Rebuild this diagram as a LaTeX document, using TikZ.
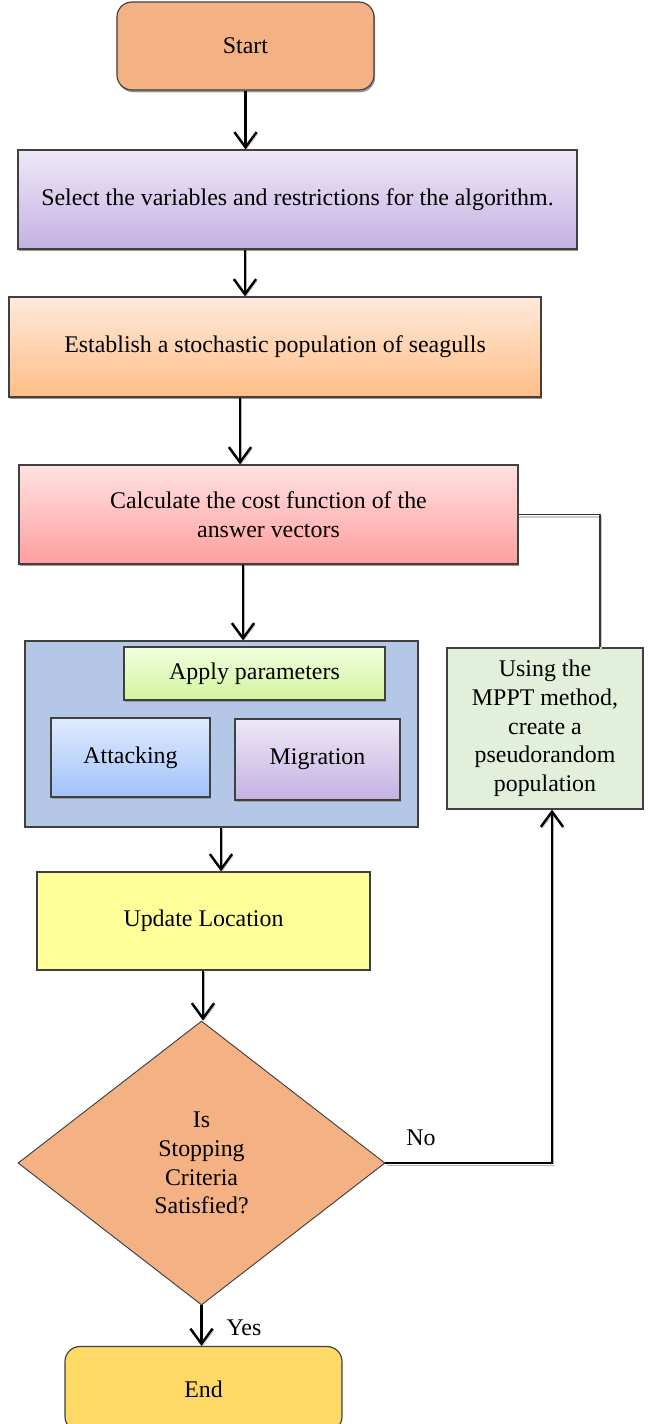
\documentclass[tikz,border=0pt]{standalone}
\usepackage{fontspec}
\setmainfont{Liberation Serif}
\usetikzlibrary{shapes.geometric,shadows,arrows.meta}
\definecolor{peach}{HTML}{F4B183}
\definecolor{lilacT}{HTML}{EEE8F7}\definecolor{lilacB}{HTML}{C4B1E2}
\definecolor{apriT}{HTML}{FFE9DC}\definecolor{apriB}{HTML}{FFBE86}
\definecolor{roseT}{HTML}{FFE2E2}\definecolor{roseB}{HTML}{FF9E9E}
\definecolor{steel}{HTML}{B4C7E7}
\definecolor{limeT}{HTML}{F2FFE0}\definecolor{limeB}{HTML}{D2F39C}
\definecolor{skyT}{HTML}{DFEAFE}\definecolor{skyB}{HTML}{A3C3FA}
\definecolor{mintbg}{HTML}{E2EFDA}
\definecolor{lemon}{HTML}{FFFF99}
\definecolor{gold}{HTML}{FFD966}
\begin{document}
\begin{tikzpicture}[x=0.03cm,y=-0.03cm,
    every node/.style={font=\fontsize{20.4}{24.5}\selectfont,align=center},
    box/.style={draw=black!75,line width=1pt,inner sep=0pt},
    shd/.style={drop shadow={shadow xshift=1pt,shadow yshift=-2pt,fill=black!40,opacity=1}},
    arr/.style={line width=2.1pt,-{Straight Barb[length=13pt,width=19pt]},
      preaction={draw=black!30,transform canvas={shift={(1pt,-1.5pt)}}}},
    fb/.style={line width=0.9pt,draw=black!80,
      preaction={draw=black!20,line width=1.4pt,transform canvas={shift={(1pt,-2pt)}}}}]
  \useasboundingbox (0,0) rectangle (650,1424);
  \node[box,shd,fill=peach,rounded corners=0.45cm,minimum width=7.71cm,minimum height=2.64cm] (start) at (245.5,46) {Start};
  \node[box,shd,top color=lilacT,bottom color=lilacB,minimum width=16.77cm,minimum height=2.97cm] (sel) at (297.5,199.5) {Select the variables and restrictions for the algorithm.};
  \node[box,shd,top color=apriT,bottom color=apriB,minimum width=15.96cm,minimum height=3cm] (est) at (275,347) {Establish a stochastic population of seagulls};
  \node[box,shd,top color=roseT,bottom color=roseB,minimum width=14.97cm,minimum height=2.97cm] (calc) at (268.5,514.5) {Calculate the cost function of the\\answer vectors};
  \node[box,fill=steel,minimum width=11.79cm,minimum height=5.58cm] (stage) at (221.5,734) {};
  \node[box,shd,top color=limeT,bottom color=limeB,minimum width=7.83cm,minimum height=1.59cm] (apply) at (254.5,673.5) {Apply parameters};
  \node[box,shd,top color=skyT,bottom color=skyB,minimum width=4.77cm,minimum height=2.37cm] (attack) at (130.5,757.5) {Attacking};
  \node[box,shd,top color=lilacT,bottom color=lilacB,minimum width=4.95cm,minimum height=2.43cm] (migr) at (317.5,759.5) {Migration};
  \node[box,fill=lemon,minimum width=9.99cm,minimum height=2.94cm] (upd) at (203.5,921) {Update Location};
  \node[box,diamond,fill=peach,line width=0.8pt,minimum width=11.01cm,minimum height=8.52cm] (dec) at (201.5,1163) {Is\\Stopping\\Criteria\\Satisfied?};
  \node[box,fill=mintbg,minimum width=5.88cm,minimum height=4.83cm] (mppt) at (545,728.5) {Using the\\MPPT method,\\create a\\pseudorandom\\population};
  \node[box,fill=gold,rounded corners=0.45cm,minimum width=8.31cm,minimum height=2.55cm] (end) at (203.5,1389) {End};
  \node (no) at (421,1138) {No};
  \node (yes) at (244,1328) {Yes};
  \draw[arr] (start.south) -- (sel.north -| start.south);
  \draw[arr] (sel.south -| 245,0) -- (est.north -| 245,0);
  \draw[arr] (est.south -| 240,0) -- (calc.north -| 240,0);
  \draw[arr] (calc.south -| 243,0) -- (stage.north -| 243,0);
  \draw[arr] (stage.south -| 221,0) -- (upd.north -| 221,0);
  \draw[arr] (upd.south -| 203,0) -- (dec.north -| 203,0);
  \draw[arr] (dec.south) -- (end.north -| dec.south);
  \draw[arr] (dec.east) -| (mppt.south -| 552,0);
  \draw[fb] (mppt.north -| 600,0) |- (calc.east);
\end{tikzpicture}
\end{document}
